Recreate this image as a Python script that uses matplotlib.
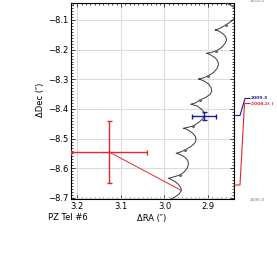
import matplotlib
matplotlib.use("Agg")
import matplotlib.pyplot as plt
from matplotlib.ticker import MultipleLocator

# predicted background-star track (RA, Dec offsets in arcsec), 2006.0 -> 2014.0
track_ra = [2.9870, 2.9756, 2.9664, 2.9612, 2.9628, 2.9680, 2.9767, 2.9859, 2.9909, 2.9806,
            2.9641, 2.9538, 2.9470, 2.9451, 2.9467, 2.9520, 2.9618, 2.9692, 2.9733, 2.9630,
            2.9527, 2.9401, 2.9309, 2.9275, 2.9291, 2.9348, 2.9447, 2.9522, 2.9566, 2.9463,
            2.9337, 2.9218, 2.9115, 2.9080, 2.9096, 2.9154, 2.9252, 2.9353, 2.9396, 2.9293,
            2.9183, 2.9057, 2.8950, 2.8915, 2.8932, 2.8989, 2.9092, 2.9179, 2.9222, 2.9119,
            2.9000, 2.8874, 2.8794, 2.8760, 2.8776, 2.8833, 2.8932, 2.8993, 2.9035, 2.8932,
            2.8817, 2.8691, 2.8611, 2.8577, 2.8593, 2.8650, 2.8748, 2.8799, 2.8840, 2.8737,
            2.8595, 2.8474, 2.8382, 2.8336, 2.8352, 2.8416, 2.8531, 2.8680]
track_dec = [-8.7050, -8.6966, -8.6865, -8.6747, -8.6645, -8.6544, -8.6436, -8.6366, -8.6335, -8.6295,
             -8.6224, -8.6106, -8.5971, -8.5837, -8.5735, -8.5638, -8.5550, -8.5510, -8.5493, -8.5449,
             -8.5381, -8.5274, -8.5156, -8.5045, -8.4927, -8.4819, -8.4718, -8.4667, -8.4650, -8.4616,
             -8.4573, -8.4455, -8.4320, -8.4202, -8.4101, -8.4000, -8.3899, -8.3855, -8.3841, -8.3797,
             -8.3696, -8.3612, -8.3504, -8.3393, -8.3275, -8.3157, -8.3056, -8.3005, -8.2989, -8.2955,
             -8.2887, -8.2769, -8.2635, -8.2500, -8.2389, -8.2281, -8.2186, -8.2139, -8.2122, -8.2095,
             -8.2045, -8.1927, -8.1792, -8.1674, -8.1573, -8.1472, -8.1378, -8.1347, -8.1337, -8.1287,
             -8.1169, -8.1051, -8.0933, -8.0798, -8.0680, -8.0562, -8.0461, -8.0393]

# yearly marks on the track
year_ra = [2.9641, 2.9527, 2.9337, 2.9183, 2.9000, 2.8817, 2.8595]
year_dec = [-8.6224, -8.5381, -8.4573, -8.3696, -8.2887, -8.2045, -8.1169]

# measured positions
obs_labels = ["2008.2( )", "2009.3"]
obs_ra = [3.127, 2.909]
obs_dec = [-8.545, -8.424]
obs_ra_err = [0.087, 0.028]
obs_dec_err = [0.103, 0.0135]
obs_colors = ["#e8262b", "#1a1a9c"]

# first epoch tied to the predicted track
link_ra = [3.127, 2.9612]
link_dec = [-8.545, -8.6747]

xticks = [3.2, 3.1, 3.0, 2.9]
yticks = [-8.1, -8.2, -8.3, -8.4, -8.5, -8.6, -8.7]

W, H = 277, 263
fig = plt.figure(figsize=(W / 100, H / 100), dpi=100)
ax = fig.add_axes([71 / W, 1 - 199 / H, 163 / W, 196 / H])

ax.plot(track_ra, track_dec, color="#3a3a3a", lw=0.7, zorder=3)
ax.plot(year_ra, year_dec, "o", color="#6a6a6a", ms=2.3, mew=0, zorder=4)
ax.plot(link_ra, link_dec, color=obs_colors[0], lw=0.7, zorder=3)
for i in range(len(obs_ra)):
  ax.errorbar(obs_ra[i], obs_dec[i], xerr=obs_ra_err[i], yerr=obs_dec_err[i],
              color=obs_colors[i], lw=1.0, capsize=1.8, capthick=1.0, zorder=5)

ax.set_xlim(3.2145, 2.8405)
ax.set_ylim(-8.7034, -8.0427)
ax.set_xticks(xticks)
ax.set_yticks(yticks)
ax.set_xticklabels(["%.1f" % v for v in xticks])
ax.set_yticklabels(["\u2212%.1f" % abs(v) for v in yticks])
ax.xaxis.set_minor_locator(MultipleLocator(0.01))
ax.yaxis.set_minor_locator(MultipleLocator(0.01))
ax.tick_params(which="both", direction="in", top=True, right=True, width=0.5,
               labelsize=6, pad=2)
ax.tick_params(which="major", length=3)
ax.tick_params(which="minor", length=1.5)
ax.grid(True, which="major", color="#dddddd", lw=0.8, zorder=0)
ax.set_axisbelow(True)
for s in ax.spines.values():
  s.set_linewidth(0.8)

fig.text(152 / W, 1 - 218 / H, "\u0394RA (\u2033)", fontsize=6, ha="center", va="center")
fig.text(40 / W, 1 - 100 / H, "\u0394Dec (\u2033)", fontsize=6, ha="center", va="center",
         rotation=90)
fig.text(48 / W, 1 - 217 / H, "PZ Tel #6", fontsize=6, ha="left", va="center")

# epoch callouts on the right
blue_x = [234, 240, 245, 250]
blue_y = [115.5, 115.5, 98.5, 98.5]
red_x = [234, 240, 244.5, 250]
red_y = [185, 185, 103.5, 103.5]
fig.add_artist(plt.Line2D([v / W for v in blue_x], [1 - v / H for v in blue_y],
                          color=obs_colors[1], lw=0.8, transform=fig.transFigure))
fig.add_artist(plt.Line2D([v / W for v in red_x], [1 - v / H for v in red_y],
                          color=obs_colors[0], lw=0.8, transform=fig.transFigure))
fig.text(251 / W, 1 - 98.5 / H, obs_labels[1], fontsize=3.2, color=obs_colors[1],
         ha="left", va="center", fontweight="bold")
fig.text(251 / W, 1 - 104 / H, obs_labels[0], fontsize=3.2, color=obs_colors[0],
         ha="left", va="center", fontweight="bold")
fig.text(250 / W, 1 - 1.5 / H, "2014.0", fontsize=3.2, color="#777777", ha="left", va="center")
fig.text(250 / W, 1 - 200 / H, "2006.0", fontsize=3.2, color="#777777", ha="left", va="center")

fig.savefig("out.png", dpi=100)
